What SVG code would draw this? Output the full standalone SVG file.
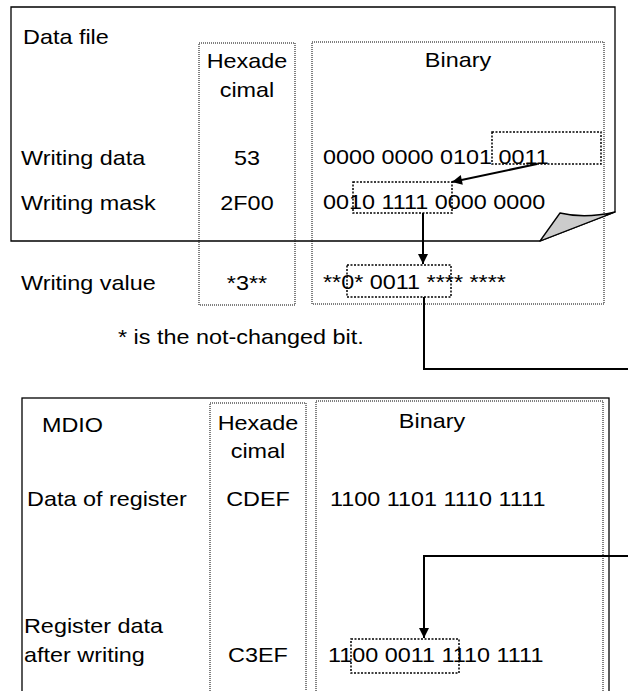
<svg xmlns="http://www.w3.org/2000/svg" width="628" height="691" viewBox="0 0 628 691">
<style>
text{font-family:"Liberation Sans",Arial,sans-serif;font-size:20px;fill:#000}
.m{text-anchor:middle}
.frame{fill:none;stroke:#000;stroke-width:1.3}
.col{fill:none;stroke:#000;stroke-width:1;stroke-dasharray:1 1}
.hl{fill:none;stroke:#000;stroke-width:1.5;stroke-dasharray:2 1.5}
.conn{fill:none;stroke:#000;stroke-width:2}
</style>
<defs>
<marker id="ah" viewBox="0 0 10 10" refX="10" refY="5" markerWidth="5.5" markerHeight="5" orient="auto" markerUnits="strokeWidth">
<path d="M0,0 L10,5 L0,10 Z" fill="#000"/>
</marker>
</defs>
<rect width="628" height="691" fill="#fff"/>

<g id="datafile">
<path class="frame" d="M11,7 H615 V212 L540,241 H11 Z" fill="#fff"/>
<path d="M540,241 L560,213 Q585,219 615,212 Z" fill="#cccccc" stroke="#000" stroke-width="1.3" stroke-linejoin="round"/>
<text x="19.66" y="44" transform="scale(1.17 1)">Data file</text>
<text x="17.95" y="165" transform="scale(1.17 1)">Writing data</text>
<text x="17.95" y="210" transform="scale(1.17 1)">Writing mask</text>
<text x="17.95" y="290" transform="scale(1.17 1)">Writing value</text>
<text x="100.85" y="344" transform="scale(1.17 1)">* is the not-changed bit.</text>
</g>

<g id="hex1">
<rect class="col" x="199" y="43" width="96" height="262"/>
<text class="m" x="211.11" y="68" transform="scale(1.17 1)">Hexade</text>
<text class="m" x="211.11" y="97" transform="scale(1.17 1)">cimal</text>
<text class="m" x="211.11" y="165" transform="scale(1.17 1)">53</text>
<text class="m" x="211.11" y="210" transform="scale(1.17 1)">2F00</text>
<text class="m" x="211.11" y="290" transform="scale(1.17 1)">*3**</text>
</g>

<g id="bin1">
<rect class="col" x="312" y="42" width="292" height="262"/>
<text class="m" x="391.45" y="67" transform="scale(1.17 1)">Binary</text>
<text x="276.07" y="164" transform="scale(1.17 1)">0000 0000 0101 0011</text>
<text x="276.07" y="209" transform="scale(1.17 1)">0010 1111 0000 0000</text>
<text x="276.07" y="289" transform="scale(1.17 1)">**0* 0011 **** ****</text>
<rect class="hl" x="492" y="132" width="109" height="32"/>
<rect class="hl" x="353" y="182" width="99" height="31"/>
<rect class="hl" x="347" y="265" width="104" height="32"/>
</g>

<g id="mdio">
<rect class="frame" x="22" y="398" width="587" height="310"/>
<text x="35.9" y="432" transform="scale(1.17 1)">MDIO</text>
<text x="23.08" y="506" transform="scale(1.17 1)">Data of register</text>
<text x="20.51" y="633" transform="scale(1.17 1)">Register data</text>
<text x="20.51" y="662" transform="scale(1.17 1)">after writing</text>
</g>

<g id="hex2">
<rect class="col" x="210" y="403" width="96" height="300"/>
<text class="m" x="220.51" y="430" transform="scale(1.17 1)">Hexade</text>
<text class="m" x="220.51" y="458" transform="scale(1.17 1)">cimal</text>
<text class="m" x="220.51" y="506" transform="scale(1.17 1)">CDEF</text>
<text class="m" x="220.51" y="662" transform="scale(1.17 1)">C3EF</text>
</g>

<g id="bin2">
<rect class="col" x="316" y="401" width="287" height="300"/>
<text class="m" x="369.23" y="428" transform="scale(1.17 1)">Binary</text>
<text x="282.05" y="506" transform="scale(1.17 1)">1100 1101 1110 1111</text>
<text x="280.34" y="662" transform="scale(1.17 1)">1100 0011 1110 1111</text>
<rect class="hl" x="351" y="639" width="108" height="34"/>
</g>

<g id="connectors">
<line class="conn" x1="537" y1="164" x2="452" y2="182" marker-end="url(#ah)"/>
<line class="conn" x1="423" y1="213" x2="423" y2="264" marker-end="url(#ah)"/>
<path class="conn" d="M424,297 V369 H628"/>
<path class="conn" d="M628,556 H424 V638" marker-end="url(#ah)"/>
</g>
</svg>
